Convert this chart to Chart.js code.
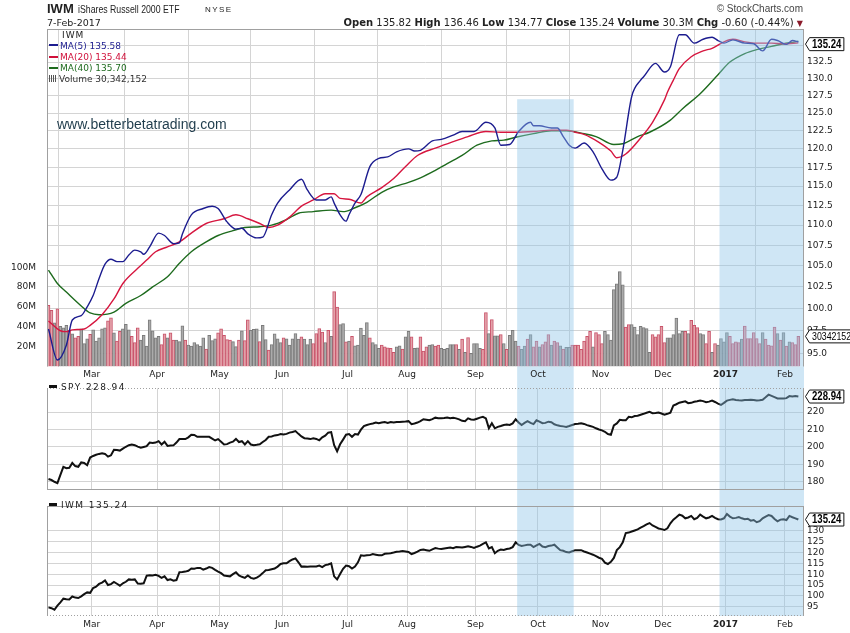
<!DOCTYPE html>
<html>
<head>
<meta charset="utf-8">
<title>IWM iShares Russell 2000 ETF</title>
<script src="https://cdn.jsdelivr.net/npm/chart.js@4.4.1/dist/chart.umd.min.js"></script>
<style>
  body { margin: 0; width: 850px; height: 633px; position: relative; overflow: hidden; background: #fff;
         font-family: "Liberation Sans", Arial, sans-serif; color: #222; }
  canvas { position: absolute; left: 0; }
  .txt { position: absolute; white-space: nowrap; line-height: 1; z-index: 5; }
  .dv { font-family: "DejaVu Sans", Verdana, sans-serif; }
  .narrow { transform: scaleX(0.76); transform-origin: 0 0; }
  .sw { display: inline-block; width: 9px; height: 2px; vertical-align: middle; margin-right: 2px; position: relative; top: -1px; }
  .volicon { display: inline-block; width: 8px; height: 7px; margin-right: 2px; vertical-align: baseline;
             background: repeating-linear-gradient(to right, #555 0 1px, transparent 1px 2px); }
</style>
</head>
<body>
<canvas id="mainChart" width="850" height="380" style="top:0"></canvas>
<canvas id="spyChart" width="850" height="118" style="top:380px"></canvas>
<canvas id="iwmChart" width="850" height="135" style="top:498px"></canvas>

<div class="txt" style="left:47px;top:2px;font-size:13px;font-weight:bold">IWM</div>
<div class="txt narrow" style="left:78px;top:3.5px;font-size:11.5px">iShares Russell 2000 ETF</div>
<div class="txt" style="left:205px;top:6px;font-size:8px;letter-spacing:1.4px">NYSE</div>
<div class="txt dv" style="left:47px;top:18px;font-size:9.5px">7-Feb-2017</div>
<div class="txt" style="right:47px;top:4px;font-size:10px;color:#444">&copy; StockCharts.com</div>
<div class="txt dv" style="right:47px;top:17.5px;font-size:10px">
  <b>Open</b> 135.82 <b>High</b> 136.46 <b>Low</b> 134.77 <b>Close</b> 135.24 <b>Volume</b> 30.3M <b>Chg</b> -0.60 (-0.44%) <span style="color:#8b1a2a;font-size:8px">&#9660;</span>
</div>

<div class="txt dv" style="left:62px;top:30.7px;font-size:9px;letter-spacing:1px">IWM</div>
<div class="txt dv" style="left:49px;top:41.7px;font-size:9px;color:#1c1c8f"><span class="sw" style="background:#1c1c8f"></span>MA(5) 135.58</div>
<div class="txt dv" style="left:49px;top:53px;font-size:9px;color:#d0103a"><span class="sw" style="background:#d0103a"></span>MA(20) 135.44</div>
<div class="txt dv" style="left:49px;top:64px;font-size:9px;color:#1e6b1e"><span class="sw" style="background:#1e6b1e"></span>MA(40) 135.70</div>
<div class="txt dv" style="left:49px;top:75px;font-size:9px;color:#333"><span class="volicon"></span>Volume 30,342,152</div>
<div class="txt" style="left:57px;top:117px;font-size:14px;color:#1f3c4c">www.betterbetatrading.com</div>

<div class="txt dv" style="left:49px;top:382.7px;font-size:9px;letter-spacing:1.4px"><span class="sw" style="background:#111;width:8px;height:3px;margin-right:4px"></span>SPY 228.94</div>
<div class="txt dv" style="left:49px;top:501.4px;font-size:9px;letter-spacing:1.4px"><span class="sw" style="background:#111;width:8px;height:3px;margin-right:4px"></span>IWM 135.24</div>

<script>
// trading days 8-Feb-2016 .. 7-Feb-2017, index 0..252
const monthStart = [15, 37, 58, 79, 101, 121, 144, 165, 186, 207, 228, 248];
const monthLabel = ['Mar', 'Apr', 'May', 'Jun', 'Jul', 'Aug', 'Sep', 'Oct', 'Nov', 'Dec', '2017', 'Feb'];

const priceTicks = [95, 97.5, 100, 102.5, 105, 107.5, 110, 112.5, 115, 117.5, 120, 122.5, 125, 127.5, 130, 132.5, 135];
const volumeTicks = [20, 40, 60, 80, 100];
const spyTicks = [180, 190, 200, 210, 220];
const iwmTicks = [95, 100, 105, 110, 115, 120, 125, 130];

// highlighted periods (day index)
const shadeFrom = [157.5, 225.5];
const shadeTo = [176.5, 253.9];

const iwmClose = [
  94.7, 94.3, 93.6, 95.5, 97.0, 98.7, 98.4, 98.3, 99.7, 99.2,
  99.0, 99.8, 100.8, 101.6, 101.4, 103.6, 104.2, 105.5, 106.1, 107.1,
  105.0, 105.4, 106.4, 105.6, 104.7, 105.8, 106.5, 107.6, 107.4, 107.6,
  105.7, 105.6, 105.8, 109.3, 109.5, 109.4, 109.7, 109.2, 108.3, 109.0,
  107.3, 107.6, 107.0, 107.3, 110.9, 111.0, 111.2, 111.6, 112.6, 112.5,
  112.9, 112.9, 112.1, 112.6, 113.3, 112.9, 112.0, 111.2, 110.5, 109.4,
  109.2, 109.0, 110.0, 110.9, 109.4, 108.8, 108.3, 109.4, 108.3, 107.9,
  108.4, 109.3, 110.5, 111.8, 111.9, 112.3, 112.6, 113.5, 114.7, 115.0,
  115.0, 116.0, 116.8, 117.3, 115.5, 113.5, 113.6, 113.4, 113.5, 113.5,
  113.6, 114.0, 113.3, 114.2, 114.5, 115.0, 109.0, 107.6, 110.1, 112.5,
  114.0, 113.7, 112.6, 113.5, 115.5, 118.7, 118.5, 118.7, 118.8, 119.3,
  119.0, 118.7, 118.7, 119.4, 119.5, 119.7, 120.0, 120.4, 120.5, 120.7,
  120.5, 120.3, 119.3, 119.8, 120.4, 121.2, 121.4, 121.1, 120.8, 121.5,
  122.1, 121.8, 121.6, 121.9, 122.1, 122.3, 122.0, 122.5, 122.4, 122.3,
  122.6, 122.9, 122.6, 122.1, 122.7, 123.2, 124.0, 124.7, 121.9, 122.5,
  119.7, 120.8, 121.4, 121.2, 121.6, 121.9, 122.5, 124.7, 123.5, 123.0,
  123.3, 123.6, 123.6, 122.5, 123.3, 124.0, 122.8, 122.5, 123.0, 123.2,
  123.6, 122.3, 121.1, 120.8, 120.2, 120.0, 120.6, 121.1, 121.0, 121.1,
  120.5, 120.0, 119.5, 119.0, 118.3, 117.6, 117.1, 115.3, 114.7, 115.7,
  117.5, 121.1, 122.5, 124.7, 129.0, 129.2, 129.7, 130.2, 130.7, 131.5,
  132.2, 133.0, 133.6, 132.5, 131.8, 131.1, 130.8, 130.4, 131.2, 133.5,
  135.2, 136.3, 137.5, 137.0, 135.8, 136.2, 136.9, 135.4, 136.0, 137.5,
  136.6, 135.8, 136.2, 136.9, 136.0, 135.4, 135.3, 135.8, 137.8, 136.6,
  135.8, 136.0, 136.4, 135.8, 135.4, 135.6, 134.7, 135.0, 134.0, 134.5,
  135.8, 136.6, 137.3, 136.9, 135.5, 134.4, 135.2, 135.4, 135.0, 136.9,
  136.3, 135.8, 135.24
];

const spyClose = [
  181.6, 181.0, 180.0, 179.2, 184.0, 188.6, 187.8, 188.0, 190.8, 189.0,
  188.6, 191.1, 190.8, 189.5, 193.9, 194.8, 195.5, 196.0, 196.3, 196.0,
  194.4, 195.2, 198.4, 198.2, 197.9, 199.0, 200.1, 201.0, 201.4, 201.0,
  200.2, 199.6, 200.0, 200.4, 202.5, 202.2, 202.5, 203.3, 201.4, 203.0,
  200.6, 200.8, 200.9, 202.5, 204.5, 204.6, 204.5, 205.5, 207.0, 206.9,
  205.8, 205.8, 205.8, 205.9, 205.8, 204.8, 203.7, 204.5, 203.0, 201.4,
  201.6, 202.5, 203.0, 204.6, 202.8, 203.3, 201.4, 203.3, 201.4, 201.0,
  201.2, 201.5, 202.8, 204.0, 205.8, 206.0, 206.6, 206.8, 207.4, 207.1,
  207.5, 208.2, 208.6, 209.1, 207.5, 206.0, 205.0, 204.8, 204.5, 205.0,
  204.6, 203.8, 205.5, 206.5, 208.2, 208.5, 201.0, 197.5, 201.5, 204.2,
  207.0, 207.4, 205.8, 207.4, 207.1, 209.9, 212.0, 212.6, 213.1, 213.5,
  214.0, 213.6, 214.0, 214.3, 213.8, 214.3, 214.0, 214.3, 214.3, 214.5,
  214.6, 214.8, 213.1, 213.5, 214.0, 214.8, 215.9, 215.6, 215.3, 216.0,
  216.8, 216.5, 216.4, 216.6, 216.9, 216.5, 216.7, 216.4, 215.8, 215.0,
  214.8, 216.4, 215.8, 215.6, 216.2, 216.8, 217.3, 216.4, 210.7, 213.6,
  210.7, 211.5, 212.0, 212.6, 212.8, 212.6, 213.5, 215.9, 214.0, 212.6,
  213.8, 214.8, 213.8, 213.1, 215.3, 214.5, 213.6, 213.8, 214.5, 214.2,
  213.0, 212.4, 212.0, 211.8, 211.5, 212.0, 212.6, 213.1, 213.3, 213.6,
  213.2, 212.5, 212.0, 211.5, 210.7, 210.0, 209.5, 208.7, 207.4, 207.0,
  212.4, 213.5, 215.6, 215.3, 215.3, 217.3, 217.0, 217.7, 217.9, 218.5,
  219.0, 219.6, 220.2, 219.4, 219.5, 219.7, 219.2, 218.5, 219.0, 219.7,
  223.8, 224.5, 225.4, 225.8, 226.2, 225.1, 225.3, 225.9, 226.2, 226.6,
  226.3, 225.7, 226.0, 226.6, 225.8, 224.9, 224.1, 225.3, 226.6, 227.0,
  227.4, 227.0, 226.8, 226.7, 227.0, 226.9, 227.1, 226.9, 226.6, 226.8,
  227.1, 228.5, 230.0, 229.3, 228.6, 227.8, 227.8, 227.8, 228.0, 229.2,
  229.0, 229.2, 228.94
];

// volume in millions, volDown = 1 for a down day (red bar)
const volume = [
  61.5, 56.5, 44, 58, 40.5, 39, 41.5, 36.5, 33, 29,
  30.5, 38, 23, 28, 32.5, 37, 25.5, 29, 38, 39,
  46, 49, 34, 25.5, 35.5, 38, 42.5, 37, 30.5, 24,
  39, 26.5, 31.5, 20.5, 47, 36, 29, 30.5, 22, 33,
  29, 34, 26.5, 26.5, 25, 41, 26.5, 21.5, 20.5, 24,
  22, 20.5, 29, 17.5, 31.5, 26, 28, 34, 38, 31.5,
  27, 26.5, 25, 20, 26.5, 36, 26, 47, 36.5, 37.5,
  38, 25, 41.5, 27, 16.5, 22, 33, 28, 24, 29,
  28, 21.5, 28, 33.2, 27.5, 29.8, 27.5, 22.2, 27.5, 23.2,
  33.2, 38.2, 34.8, 24.2, 36.5, 30.5, 75.5, 59.8, 42.2, 43.2,
  24.8, 25.5, 30.5, 20.8, 21.5, 38.8, 31.5, 44.2, 28.8, 24.2,
  22.2, 18.2, 21.5, 19.8, 18.8, 18.2, 14.2, 19.8, 20.8, 17.5,
  29.8, 35.5, 29.8, 18.2, 18.8, 29.8, 15.5, 19.8, 21.5, 22.2,
  20.5, 21.5, 18.2, 17.2, 18.2, 22.2, 22.2, 22.2, 17.2, 27.5,
  14.2, 29.2, 13.2, 23.2, 23.2, 18.2, 17.2, 54.2, 33.2, 47.2,
  30.8, 30.8, 32.2, 23.2, 17.2, 31.5, 36.5, 25.5, 20.5, 17.2,
  20.5, 27.5, 32.2, 19.8, 25.5, 19.8, 22.2, 24.8, 32.2, 21.5,
  25.5, 24.2, 20.8, 17.5, 19.2, 19.2, 21.5, 21.5, 21.5, 17.2,
  25.5, 30.5, 35.5, 19.8, 34.2, 32.2, 23.2, 35.5, 32.2, 26.5,
  77.5, 83.2, 95.5, 82.2, 39.8, 42.2, 42.2, 39.8, 32.2, 40.5,
  39.2, 38.2, 14.2, 32.2, 29.8, 32.2, 40.5, 24.2, 28.8, 28.8,
  32.2, 48.8, 33.2, 35.5, 35.5, 33.2, 46.5, 41.5, 39.2, 33.2,
  32.2, 23.2, 35.5, 14.2, 23.2, 21.5, 28.2, 24.8, 34.2, 30.5,
  23.2, 24.8, 24.2, 27.5, 40.8, 28.2, 28.2, 34.2, 28.2, 23.2,
  34.2, 27.5, 21.5, 20.8, 39.8, 33.2, 26.5, 34.2, 20.5, 24.8,
  24.2, 22.2, 30.34
];
const volDown = [
  1, 1, 0, 1, 0, 0, 0, 1, 0, 1,
  1, 0, 0, 0, 1, 0, 0, 0, 0, 0,
  1, 1, 0, 1, 1, 0, 0, 0, 1, 1,
  1, 0, 0, 0, 0, 0, 0, 0, 1, 1,
  0, 1, 1, 0, 0, 0, 1, 0, 0, 0,
  0, 0, 0, 1, 0, 0, 0, 1, 1, 1,
  1, 1, 0, 0, 1, 0, 1, 1, 0, 0,
  0, 1, 0, 0, 1, 0, 0, 0, 0, 1,
  0, 0, 0, 0, 0, 1, 0, 0, 0, 1,
  1, 1, 1, 0, 1, 0, 1, 1, 0, 0,
  1, 0, 1, 0, 0, 0, 0, 0, 1, 0,
  0, 0, 1, 1, 1, 1, 1, 0, 0, 1,
  0, 0, 1, 0, 0, 1, 1, 1, 0, 0,
  1, 1, 0, 0, 0, 0, 0, 1, 0, 1,
  0, 1, 0, 0, 0, 0, 1, 1, 0, 1,
  0, 0, 1, 0, 1, 0, 0, 0, 1, 0,
  0, 1, 0, 1, 1, 0, 1, 1, 1, 0,
  1, 1, 0, 1, 0, 0, 1, 1, 1, 1,
  1, 1, 1, 0, 1, 1, 1, 0, 0, 0,
  0, 0, 0, 0, 1, 1, 0, 0, 0, 0,
  0, 0, 0, 1, 1, 1, 1, 1, 0, 0,
  0, 0, 0, 0, 1, 0, 1, 1, 1, 0,
  0, 1, 1, 0, 1, 0, 0, 0, 0, 1,
  1, 1, 1, 0, 1, 1, 1, 1, 1, 1,
  0, 1, 1, 1, 1, 0, 1, 0, 1, 0,
  1, 1, 1
];

// moving averages at the listed day indexes
const ma5Day = [0, 3, 6, 8, 11, 13, 15, 17, 19, 21, 23, 25, 27, 29, 31, 32, 34, 37, 39, 42, 44, 45, 48, 52, 55, 57, 60, 63, 65, 67,
  70, 72, 75, 77, 81, 85, 87, 90, 93, 95, 96, 98, 100, 101, 103, 105, 108, 111, 114, 117, 121, 123, 125, 129, 132, 136, 139, 143, 147, 150,
  152, 155, 158, 162, 163, 165, 169, 171, 173, 175, 177, 180, 183, 186, 189, 191, 193, 196, 199, 200, 204, 207, 209, 212, 214, 217, 220, 223, 225, 227,
  230, 234, 237, 240, 243, 245, 248, 250, 252];
const ma5 = [97.7, 94.3, 95.9, 98.7, 99.2, 100.2, 101.5, 103.5, 105.2, 105.8, 105.5, 105.5, 106.3, 106.9, 106.7, 106.4, 107.3, 109.0, 108.7, 107.7,
  107.8, 108.9, 111.3, 112.1, 112.4, 112.1, 110.4, 109.5, 109.6, 108.9, 108.4, 108.5, 111.3, 112.8, 114.5, 115.9, 114.5, 113.2, 113.2, 113.6,
  112.8, 111.3, 110.5, 111.3, 112.8, 113.9, 117.6, 118.7, 118.9, 119.6, 120.0, 119.7, 119.8, 121.1, 121.3, 121.9, 122.4, 122.4, 123.7, 122.9,
  120.5, 120.6, 122.4, 123.7, 123.2, 123.2, 122.9, 122.9, 121.7, 120.5, 120.1, 120.8, 119.6, 117.3, 115.8, 116.2, 119.8, 127.4, 129.8, 130.3,
  132.3, 131.0, 131.8, 136.7, 136.7, 135.4, 136.0, 136.3, 135.8, 135.4, 135.9, 135.4, 135.3, 134.2, 136.0, 135.8, 135.2, 135.8, 135.58];

const ma20Day = [0, 4, 6, 8, 12, 14, 18, 22, 25, 30, 33, 36, 40, 44, 48, 53, 59, 63, 67, 71, 74, 77, 81, 85, 89, 93, 96, 98, 101, 105,
  107, 112, 116, 120, 124, 130, 136, 141, 147, 152, 157, 163, 169, 174, 177, 180, 185, 189, 191, 194, 199, 203, 207, 208, 210, 212, 216, 220, 223, 227,
  230, 234, 238, 243, 247, 252];
const ma20 = [98.6, 97.5, 97.4, 97.6, 97.7, 98.1, 99.3, 101.1, 102.9, 104.7, 105.7, 106.7, 107.3, 107.9, 109.0, 110.2, 110.8, 111.3, 110.8, 110.2,
  109.7, 110.0, 111.0, 112.4, 113.2, 114.0, 114.0, 113.4, 113.3, 112.8, 113.6, 114.8, 116.0, 117.6, 119.1, 120.1, 121.0, 121.7, 122.4, 122.3,
  122.3, 122.4, 122.6, 122.6, 122.3, 122.0, 120.9, 119.7, 118.8, 119.3, 121.5, 123.7, 126.9, 128.0, 129.8, 131.5, 133.3, 134.2, 134.6, 135.6,
  136.0, 135.6, 135.4, 135.4, 135.3, 135.44];

const ma40Day = [0, 3, 6, 11, 14, 17, 22, 26, 31, 35, 40, 44, 48, 53, 57, 62, 66, 71, 75, 80, 84, 89, 95, 99, 103, 107, 112, 116, 121, 125,
  130, 134, 139, 144, 149, 153, 157, 163, 169, 174, 180, 184, 190, 193, 198, 202, 209, 213, 219, 225, 229, 234, 238, 243, 247, 251, 252];
const ma40 = [104.5, 102.9, 101.9, 100.3, 99.5, 99.3, 99.6, 100.6, 101.5, 102.5, 103.7, 105.3, 106.7, 107.9, 108.7, 109.3, 109.7, 109.8, 110.0, 110.7,
  111.5, 111.7, 111.9, 111.7, 112.2, 112.9, 114.2, 114.9, 115.5, 116.1, 117.1, 118.0, 119.1, 120.5, 121.1, 121.2, 121.6, 122.1, 122.5, 122.5,
  122.1, 121.7, 120.6, 120.7, 121.7, 122.3, 124.0, 125.6, 127.8, 130.6, 132.5, 133.8, 134.4, 134.9, 135.3, 135.6, 135.70];

const TICK_FONT = { family: 'DejaVu Sans', size: 9 };
const X_MIN = -0.5, X_MAX = 253.9;
const SHADE = 'rgba(140,195,230,0.42)';
const GRID = '#d4d4d4';

function pts(days, vals) { return days.map((d, k) => ({ x: d, y: vals[k] })); }

function xAxis(showLabels, height) {
	return {
		type: 'linear', min: X_MIN, max: X_MAX, offset: false,
		afterBuildTicks: s => { s.ticks = monthStart.map(d => ({ value: d - 0.5 })); },
		afterFit: s => { s.height = height; },
		grid: { color: GRID, drawTicks: false },
		border: { display: false },
		ticks: {
			display: showLabels, autoSkip: false, maxRotation: 0, padding: 3, color: '#222',
			font: ctx => ({ family: 'DejaVu Sans', size: 9, weight: monthLabel[ctx.index] === '2017' ? 'bold' : 'normal' }),
			callback: (v, i) => monthLabel[i]
		}
	};
}

function rightAxis(type, min, max, tickList, fmt) {
	return {
		type, position: 'right', min, max,
		afterBuildTicks: s => { s.ticks = tickList.map(v => ({ value: v })); },
		afterFit: s => { s.width = 46; },
		grid: { color: GRID, drawTicks: false },
		border: { display: false },
		ticks: { padding: 3, color: '#222', font: TICK_FONT, callback: fmt }
	};
}

// value tag with a pointed left side, text squeezed like the original narrow font
function drawTag(ctx, x, y, text, bold, size) {
	const squeeze = 0.8;
	ctx.font = (bold ? 'bold ' : '') + size + 'px "Liberation Sans", Arial, sans-serif';
	const w = ctx.measureText(text).width * squeeze + 4;
	ctx.beginPath();
	ctx.moveTo(x + 0.5, y);
	ctx.lineTo(x + 4.5, y - 6.5);
	ctx.lineTo(x + 5.5 + w, y - 6.5);
	ctx.lineTo(x + 5.5 + w, y + 6.5);
	ctx.lineTo(x + 4.5, y + 6.5);
	ctx.closePath();
	ctx.fillStyle = '#fff';
	ctx.fill();
	ctx.strokeStyle = '#111';
	ctx.lineWidth = 1;
	ctx.stroke();
	ctx.save();
	ctx.translate(x + 7, y + 0.5);
	ctx.scale(squeeze, 1);
	ctx.fillStyle = '#000';
	ctx.textAlign = 'left';
	ctx.textBaseline = 'middle';
	ctx.fillText(text, 0, 0);
	ctx.restore();
}

function hline(ctx, x0, x1, y, dotted) {
	ctx.beginPath();
	ctx.setLineDash(dotted ? [1, 2] : []);
	ctx.moveTo(x0, y);
	ctx.lineTo(x1, y);
	ctx.stroke();
	ctx.setLineDash([]);
}

function shadeRects(chart, topFn, y1) {
	const { ctx, chartArea: a, scales } = chart;
	ctx.fillStyle = SHADE;
	shadeFrom.forEach((from, k) => {
		const x0 = scales.x.getPixelForValue(from);
		const x1 = Math.min(scales.x.getPixelForValue(shadeTo[k]), a.right);
		const y0 = topFn(chart, k);
		ctx.fillRect(x0, y0, x1 - x0, y1 - y0);
	});
}

// shading, panel frame and value tags
function overlay(opts) {
	return {
		id: 'overlay',
		beforeDraw(chart) {
			// shade strip behind the month labels, so the labels stay dark
			if (!opts.labelStrip) return;
			chart.ctx.save();
			shadeRects(chart, c => c.chartArea.bottom, chart.height);
			chart.ctx.restore();
		},
		afterDatasetsDraw(chart) {
			const { ctx, chartArea: a } = chart;
			ctx.save();
			shadeRects(chart, opts.shadeTop, opts.shadeBottom(chart));
			ctx.strokeStyle = '#a0a0a0';
			ctx.lineWidth = 1;
			const l = Math.round(a.left) + 0.5, r = Math.round(a.right) - 0.5;
			const t = Math.round(a.top) + 0.5, b = Math.round(a.bottom) - 0.5;
			ctx.beginPath();
			ctx.moveTo(l, a.top); ctx.lineTo(l, a.bottom);
			ctx.moveTo(r, a.top); ctx.lineTo(r, a.bottom);
			ctx.stroke();
			if (opts.top) hline(ctx, a.left, a.right, t, opts.top === 'dot');
			if (opts.bottom) hline(ctx, a.left, a.right, b, opts.bottom === 'dot');
			ctx.restore();
		},
		afterDraw(chart) {
			const { ctx, chartArea: a, scales } = chart;
			ctx.save();
			opts.tags.forEach(tg => drawTag(ctx, a.right + 1, scales[tg.axis].getPixelForValue(tg.value), tg.text, tg.bold, tg.size || 12));
			ctx.restore();
		}
	};
}

const common = {
	responsive: false, animation: false, devicePixelRatio: 1, events: [],
	plugins: { legend: { display: false }, tooltip: { enabled: false } }
};

// main panel: moving averages + volume
new Chart(document.getElementById('mainChart').getContext('2d'), {
	type: 'bar',
	data: {
		datasets: [
			{ type: 'line', data: pts(ma5Day, ma5), yAxisID: 'y', xAxisID: 'x', borderColor: '#1c1c8f', borderWidth: 1.4,
			  pointRadius: 0, cubicInterpolationMode: 'monotone', order: 1 },
			{ type: 'line', data: pts(ma20Day, ma20), yAxisID: 'y', xAxisID: 'x', borderColor: '#d6163f', borderWidth: 1.4,
			  pointRadius: 0, cubicInterpolationMode: 'monotone', order: 2 },
			{ type: 'line', data: pts(ma40Day, ma40), yAxisID: 'y', xAxisID: 'x', borderColor: '#1e6b1e', borderWidth: 1.4,
			  pointRadius: 0, cubicInterpolationMode: 'monotone', order: 3 },
			{ type: 'bar', data: volume.map((v, i) => ({ x: i, y: v })), yAxisID: 'yv', xAxisID: 'x',
			  backgroundColor: volDown.map(d => d ? '#e3a3aa' : '#ababab'),
			  borderColor: volDown.map(d => d ? '#c9536a' : '#7b7b7b'),
			  borderWidth: 1, barPercentage: 1, categoryPercentage: 1, order: 10 }
		]
	},
	options: {
		...common,
		layout: { padding: { top: 29, left: 0, right: 0, bottom: 0 } },
		scales: {
			x: xAxis(true, 13.5),
			y: rightAxis('logarithmic', 93.6, 137.6, priceTicks, v => Number(v).toFixed(1)),
			yv: {
				type: 'linear', position: 'left', min: 0, max: 340,
				afterBuildTicks: s => { s.ticks = volumeTicks.map(v => ({ value: v })); },
				afterFit: s => { s.width = 47; },
				grid: { display: false }, border: { display: false },
				ticks: { padding: 3, color: '#222', font: TICK_FONT, callback: v => v + 'M' }
			}
		}
	},
	plugins: [overlay({
		shadeTop: (c, k) => k === 0 ? c.scales.y.getPixelForValue(127) : c.chartArea.top,
		shadeBottom: c => c.chartArea.bottom,
		labelStrip: true,
		top: 'solid',
		tags: [
			{ axis: 'y', value: 135.24, text: '135.24', bold: true },
			{ axis: 'yv', value: 30.34, text: '30342152', bold: false, size: 11 }
		]
	})]
});

// SPY panel
new Chart(document.getElementById('spyChart').getContext('2d'), {
	type: 'line',
	data: { datasets: [{ data: spyClose.map((v, i) => ({ x: i, y: v })), borderColor: '#111', borderWidth: 2, pointRadius: 0 }] },
	options: {
		...common,
		layout: { padding: { left: 47, top: 0, right: 0, bottom: 0 } },
		scales: {
			x: xAxis(false, 0),
			y: rightAxis('linear', 175.5, 233.6, spyTicks, v => String(v))
		}
	},
	plugins: [overlay({
		shadeTop: () => 0,
		shadeBottom: c => c.height,
		top: 'dot', bottom: 'solid',
		tags: [{ axis: 'y', value: 228.94, text: '228.94', bold: true }]
	})]
});

// IWM panel
new Chart(document.getElementById('iwmChart').getContext('2d'), {
	type: 'line',
	data: { datasets: [{ data: iwmClose.map((v, i) => ({ x: i, y: v })), borderColor: '#111', borderWidth: 2, pointRadius: 0 }] },
	options: {
		...common,
		layout: { padding: { left: 47, top: 0, right: 0, bottom: 0 } },
		scales: {
			x: xAxis(true, 17),
			y: rightAxis('linear', 90.7, 141.3, iwmTicks, v => String(v))
		}
	},
	plugins: [overlay({
		shadeTop: () => 0,
		shadeBottom: c => c.chartArea.bottom,
		top: 'solid', bottom: 'dot',
		tags: [{ axis: 'y', value: 135.24, text: '135.24', bold: true }]
	})]
});
</script>
</body>
</html>
